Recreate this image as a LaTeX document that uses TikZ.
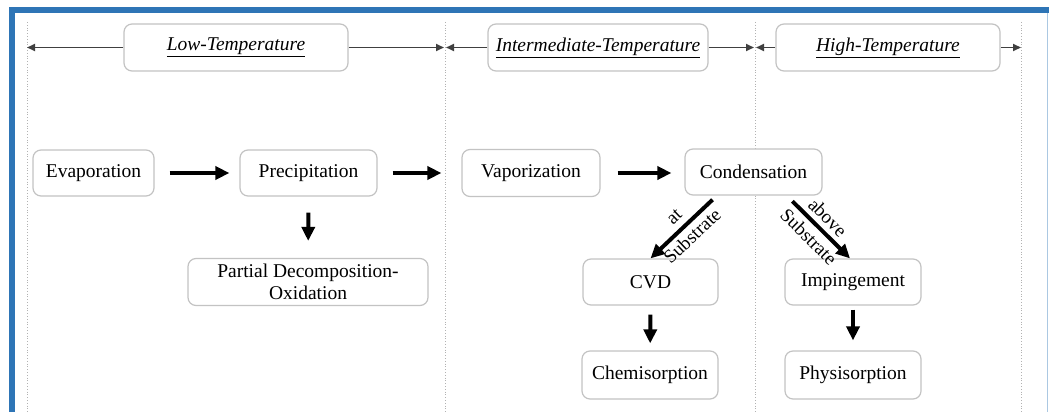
\documentclass[tikz,border=0pt]{standalone}
\usepackage{fontspec}
\setmainfont{Liberation Serif}
\usetikzlibrary{arrows.meta,calc}
\definecolor{frameblue}{RGB}{46,117,182}
\definecolor{boxgray}{RGB}{195,195,195}
\begin{document}
\begin{tikzpicture}[x=1pt,y=-1pt,
  box/.style={draw=boxgray, line width=1.2pt, rounded corners=8pt, fill=white,
    font=\fontsize{19.5}{22}\selectfont, align=center, inner sep=0pt},
  hdr/.style={box, font=\fontsize{19.5}{22}\selectfont\itshape, minimum height=47pt},
  bigarrow/.style={line width=4pt, -{Triangle[length=14pt,width=13pt]}},
  toparrow/.style={line width=1.8pt, draw=black!75, -{Triangle[length=8pt,width=7pt]}},
  sep/.style={draw=black!30, dotted, line width=0.8pt},
  lbl/.style={sloped, align=center, inner sep=0pt, font=\fontsize{19}{27}\selectfont}
]
\useasboundingbox (0,0) rectangle (1049,412);
% frame
\fill[frameblue] (9,7) rectangle (15,412);
\fill[frameblue] (9,7) rectangle (1049,13);
\draw[frameblue!40, line width=1pt] (1047.5,13) -- (1047.5,412);
% separators
\foreach \x in {27,445,755,1021} \draw[sep] (\x,22) -- (\x,412);
% headers
\node[hdr, minimum width=224pt] (low) at (236,47.5) {\underline{Low-Temperature}};
\node[hdr, minimum width=220pt] (mid) at (598,47.5) {\underline{Intermediate-Temperature}};
\node[hdr, minimum width=224pt] (high) at (888,47.5) {\underline{High-Temperature}};
\coordinate (lowL) at (27,47.5);
\coordinate (b1R) at (444,47.5);
\coordinate (b1L) at (446,47.5);
\coordinate (b2R) at (754,47.5);
\coordinate (b2L) at (756,47.5);
\coordinate (hiR) at (1021,47.5);
\draw[toparrow] (low.west) -- (lowL);
\draw[toparrow] (low.east) -- (b1R);
\draw[toparrow] (mid.west) -- (b1L);
\draw[toparrow] (mid.east) -- (b2R);
\draw[toparrow] (high.west) -- (b2L);
\draw[toparrow] (high.east) -- (hiR);
% process boxes
\node[box, minimum width=121pt, minimum height=46pt] (evap) at (93.5,173) {Evaporation};
\node[box, minimum width=137pt, minimum height=46pt] (prec) at (308.5,173) {Precipitation};
\node[box, minimum width=138pt, minimum height=47pt] (vap) at (531,173) {Vaporization};
\node[box, minimum width=137pt, minimum height=46pt] (cond) at (753.5,172) {Condensation};
\node[box, minimum width=240pt, minimum height=47pt] (part) at (308,282) {Partial Decomposition-\\Oxidation};
\node[box, minimum width=135pt, minimum height=46pt] (cvd) at (650.5,282) {CVD};
\node[box, minimum width=136pt, minimum height=46pt] (imp) at (853,282) {Impingement};
\node[box, minimum width=136pt, minimum height=48pt] (chem) at (650,375) {Chemisorption};
\node[box, minimum width=136pt, minimum height=48pt] (phys) at (853,375) {Physisorption};
% arrows
\draw[bigarrow, shorten <=15pt, shorten >=10pt] (evap) -- (prec);
\draw[bigarrow, shorten <=15pt, shorten >=20pt] (prec) -- (vap.west |- prec.east);
\draw[bigarrow, shorten <=17pt, shorten >=13pt] (vap) -- (vap.east -| cond.west);
\draw[bigarrow, shorten <=16pt, shorten >=17pt] (prec) -- (part);
\draw[bigarrow, shorten <=9pt, shorten >=7pt] (cvd) -- (chem);
\draw[bigarrow, shorten <=4pt, shorten >=10pt] (imp) -- (phys);
\draw[bigarrow, shorten <=6pt] ($(cond.south west)!0.235!(cond.south east)$) -- (cvd.north)
  node[lbl, midway] {at\\Substrate};
\draw[bigarrow, shorten <=8pt] ($(cond.south west)!0.74!(cond.south east)$) -- ($(imp.north)+(-3,0)$)
  node[lbl, midway] {above\\Substrate};
\end{tikzpicture}
\end{document}
